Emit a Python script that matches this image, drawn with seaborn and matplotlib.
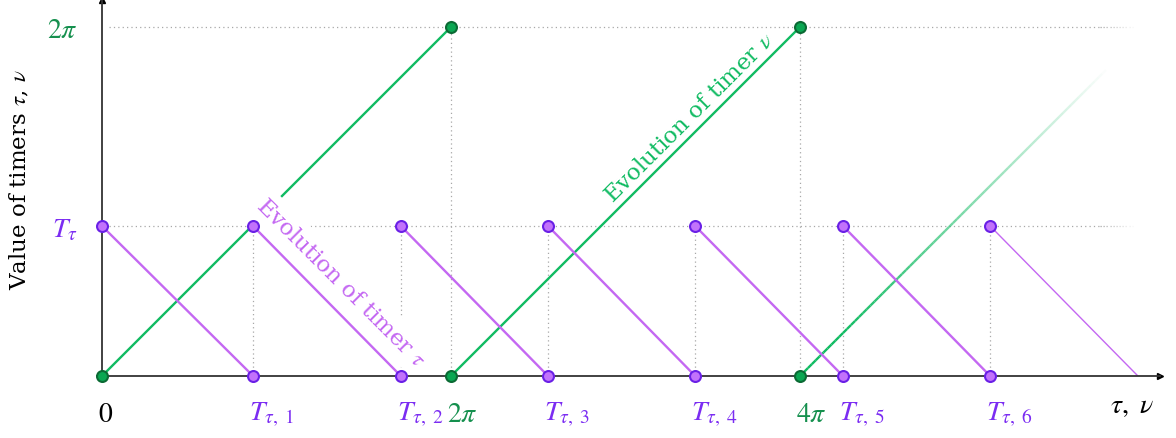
import numpy as np
import pandas as pd
import matplotlib
matplotlib.use("Agg")
import matplotlib.pyplot as plt
import matplotlib.transforms as mtransforms
from matplotlib.collections import LineCollection
import seaborn as sns

# values (in radians)
T_tau = 2.70
two_pi = 2 * np.pi
tau_resets = [0, 2.72, 5.38, 8.03, 10.68, 13.34, 15.99]
tau_last_end = 18.65
nu_resets = [0, two_pi, 2 * two_pi]
nu_last_top = 5.58

xtick_pos = [0, 2.72, 5.38, two_pi, 8.03, 10.68, 2 * two_pi, 13.34, 15.99]
xtick_lab = ['$0$', r'$T_{\tau,\ 1}$', r'$T_{\tau,\ 2}$', r'$2\pi$', r'$T_{\tau,\ 3}$',
             r'$T_{\tau,\ 4}$', r'$4\pi$', r'$T_{\tau,\ 5}$', r'$T_{\tau,\ 6}$']
xtick_kind = ['zero', 'tau', 'tau', 'nu', 'tau', 'tau', 'nu', 'tau', 'tau']
ytick_pos = [T_tau, two_pi]
ytick_lab = [r'$T_\tau$', r'$2\pi$']
ytick_kind = ['tau', 'nu']

purple_line = '#c468f2'
purple_fill = '#c272fb'
purple_edge = '#6a20e6'
purple_text = '#7b2cf2'
green_line = '#10bb62'
green_fill = '#0aa752'
green_edge = '#0b6a34'
green_text = '#15904e'
label_col = {'zero': 'black', 'tau': purple_text, 'nu': green_text}

sns.set_theme(style='white')
plt.rcParams['font.family'] = ['DejaVu Serif', 'DejaVu Sans']
plt.rcParams['mathtext.fontset'] = 'stix'

# segments
rows = []
for k in range(len(tau_resets) - 1):
    rows.append(('tau', 'p%d' % k, tau_resets[k], T_tau))
    rows.append(('tau', 'p%d' % k, tau_resets[k + 1], 0))
for k in range(len(nu_resets) - 1):
    rows.append(('nu', 'g%d' % k, nu_resets[k], 0))
    rows.append(('nu', 'g%d' % k, nu_resets[k + 1], two_pi))
seg = pd.DataFrame(rows, columns=['timer', 'seg', 'x', 'y'])

s = two_pi / 349.0  # radians per pixel
fig = plt.figure(figsize=(11.76, 4.39), dpi=100)
ax = fig.add_axes([97 / 1176, 62 / 439, (1160 - 97) / 1176, 376 / 439])
ax.set_xlim(-5 * s, 1058 * s)
ax.set_ylim(0, 376 * s)

# dotted guide lines
gcol = '#a8a8a8'
grid_kw = dict(color=gcol, lw=0.9, linestyle=(0, (1, 2.5)), zorder=1)
x_end = 1100 * s - 102 * s
for yv in ytick_pos:
    ax.plot([0.12, x_end], [yv, yv], **grid_kw)
    xs = np.linspace(x_end, 1135 * s - 102 * s, 12)
    for i in range(len(xs) - 1):
        ax.plot(xs[i:i + 2], [yv, yv], color=gcol, lw=0.9,
                alpha=1 - i / 11, linestyle=(0, (1, 2.5)), zorder=1)
for xv in tau_resets[1:]:
    ax.plot([xv, xv], [0, T_tau], **grid_kw)
for xv in nu_resets[1:]:
    ax.plot([xv, xv], [0, two_pi + 8 * s], **grid_kw)

# green ramps sit under the tau label box, purple ramps above it
sns.lineplot(data=seg[seg.timer == 'nu'], x='x', y='y', units='seg', estimator=None,
             sort=False, color=green_line, lw=1.7, legend=False, ax=ax, zorder=3)
sns.lineplot(data=seg[seg.timer == 'tau'], x='x', y='y', units='seg', estimator=None,
             sort=False, color=purple_line, lw=1.7, legend=False, ax=ax, zorder=4.5)

# fading last green ramp
gx = np.linspace(nu_resets[-1], nu_resets[-1] + nu_last_top, 80)
gy = gx - nu_resets[-1]
pts = np.column_stack([gx, gy]).reshape(-1, 1, 2)
segs = np.concatenate([pts[:-1], pts[1:]], axis=1)
alphas = np.clip(1.15 - np.linspace(0, 1, len(segs)) * 1.15, 0, 1)
cols = [matplotlib.colors.to_rgba(green_line, a) for a in alphas]
ax.add_collection(LineCollection(segs, colors=cols, lw=1.7, zorder=3))

# last purple ramp (thin)
ax.plot([tau_resets[-1], tau_last_end], [T_tau, 0], color=purple_line, lw=1.0, zorder=4.5)

# markers
tau_pts = pd.DataFrame({'x': tau_resets + tau_resets[1:],
                        'y': [T_tau] * len(tau_resets) + [0] * (len(tau_resets) - 1)})
nu_pts = pd.DataFrame({'x': nu_resets + nu_resets[1:],
                       'y': [0] * len(nu_resets) + [two_pi] * (len(nu_resets) - 1)})
sns.scatterplot(data=tau_pts, x='x', y='y', s=62, color=purple_fill, edgecolor=purple_edge,
                linewidth=1.5, ax=ax, zorder=6, clip_on=False)
sns.scatterplot(data=nu_pts, x='x', y='y', s=62, color=green_fill, edgecolor=green_edge,
                linewidth=1.5, ax=ax, zorder=6, clip_on=False)

# text along the ramps
ax.text(239 * s, 94 * s, r'Evolution of timer $\tau$', rotation=-45, rotation_mode='anchor',
        ha='center', va='center', color=purple_line, fontsize=16.5, zorder=4,
        bbox=dict(facecolor='white', edgecolor='none', pad=5))
ax.text(588 * s, 259 * s, r'Evolution of timer $\nu$', rotation=45, rotation_mode='anchor',
        ha='center', va='center', color=green_line, fontsize=16.5, zorder=4)

# axes, spines and arrows
for side in ['top', 'right']:
    ax.spines[side].set_visible(False)
ax.spines['left'].set_position(('data', 0))
for side in ['left', 'bottom']:
    ax.spines[side].set_color('#333333')
    ax.spines[side].set_linewidth(1.3)
    ax.spines[side].set_zorder(5)
ax.plot(1, 0, marker='>', color='black', ms=5, transform=ax.get_yaxis_transform(), clip_on=False)
ax.plot(0, 1, marker='^', color='black', ms=5, transform=ax.get_xaxis_transform(), clip_on=False)

ax.set_xticks(xtick_pos, xtick_lab)
ax.set_yticks(ytick_pos, ytick_lab)
ax.tick_params(axis='x', direction='out', length=8, width=1.5, color='black',
               labelsize=20, pad=9)
ax.tick_params(axis='y', direction='inout', length=9, width=1.5, color='black',
               labelsize=20, pad=13)
shift = mtransforms.ScaledTranslation(-4 / 100, 0, fig.dpi_scale_trans)
for lab, kind in zip(ax.get_xticklabels(), xtick_kind):
    lab.set_color(label_col[kind])
    lab.set_horizontalalignment('left')
    lab.set_transform(lab.get_transform() + shift)
for lab, kind in zip(ax.get_yticklabels(), ytick_kind):
    lab.set_color(label_col[kind])
ax.set_xlabel('')
ax.set_ylabel('')

fig.text(20 / 1176, 1 - 180 / 439, r'Value of timers $\tau$, $\nu$', rotation=90,
         ha='center', va='center', fontsize=16.5, color='black')
fig.text(1132 / 1176, 1 - 406 / 439, r'$\tau,\ \nu$', ha='center', va='center',
         fontsize=20, color='black')

fig.savefig('out.png', dpi=100)
